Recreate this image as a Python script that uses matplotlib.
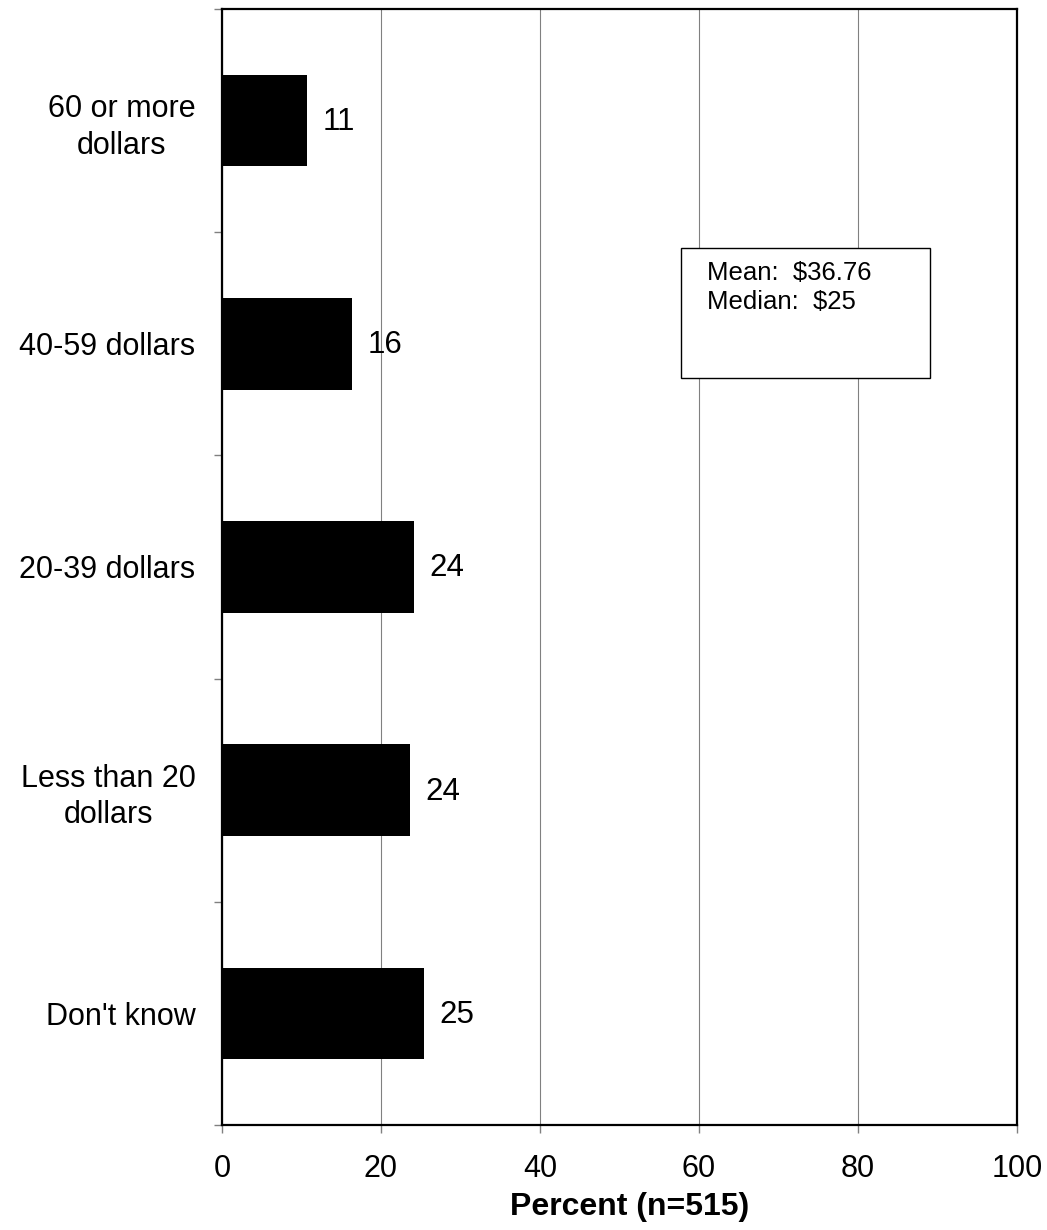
import matplotlib
matplotlib.use("Agg")
import matplotlib.pyplot as plt
from matplotlib.patches import Rectangle

plt.rcParams['font.family'] = ['Liberation Sans', 'DejaVu Sans']

# data
categories = ["60 or more\ndollars", "40-59 dollars", "20-39 dollars",
              "Less than 20\ndollars", "Don't know"]
percents = [10.7, 16.4, 24.2, 23.7, 25.4]
x_ticks = [0, 20, 40, 60, 80, 100]
stats_text = "Mean:  $36.76\nMedian:  $25"
x_label = "Percent (n=515)"

fig = plt.figure(figsize=(10.47, 12.30), dpi=100)
ax = fig.add_axes([0.212, 0.0854, 0.7593, 0.9073])

pos = list(range(len(categories)))
ax.barh(pos, percents, height=0.41, color="black", zorder=3)

for p, v in zip(pos, percents):
    ax.annotate(f"{v:.0f}", (v, p), xytext=(11, -1), textcoords="offset points",
                ha="left", va="center", fontsize=22.5)

ax.set_xlim(0, 100)
ax.set_ylim(len(categories) - 0.5, -0.5)
ax.set_xticks(x_ticks)
ax.set_xticklabels([str(t) for t in x_ticks], fontsize=22)
ax.tick_params(axis="x", direction="out", length=6, width=1, color="#808080", pad=15)

ax.set_yticks(pos)
ax.set_yticklabels(categories, fontsize=22, multialignment="center", linespacing=1.28)
ax.tick_params(axis="y", which="major", length=0, pad=19)
ax.set_yticks([i - 0.5 for i in range(len(categories) + 1)], minor=True)
ax.tick_params(axis="y", which="minor", direction="out", length=6, width=1, color="#808080")

ax.grid(axis="x", color="#808080", linewidth=0.8, zorder=0)
for s in ax.spines.values():
    s.set_linewidth(1.6)
    s.set_color("black")

ax.set_xlabel(x_label, fontsize=23, fontweight="bold", labelpad=6, x=0.513)

# stats box
ax.add_patch(Rectangle((0.577, 0.669), 0.314, 0.117, transform=ax.transAxes,
                       facecolor="white", edgecolor="black", linewidth=1, zorder=4))
ax.text(0.610, 0.774, stats_text, transform=ax.transAxes, ha="left", va="top",
        fontsize=18.5, linespacing=1.25, zorder=5)

fig.savefig("out.png", dpi=100)
